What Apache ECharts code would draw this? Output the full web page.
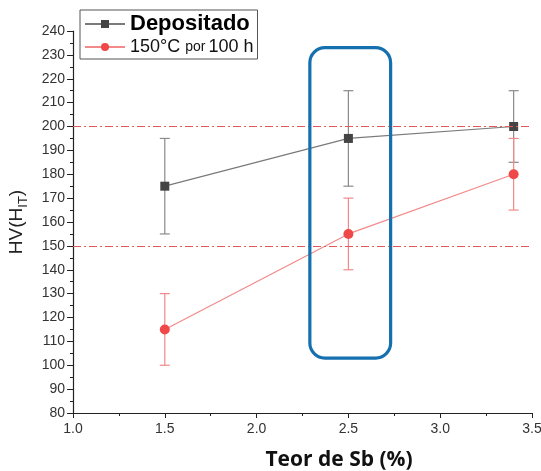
<!DOCTYPE html>
<html>
<head>
<meta charset="utf-8">
<script src="https://cdn.jsdelivr.net/npm/echarts@6/dist/echarts.min.js"></script>
<style>
  html, body { margin: 0; padding: 0; background: #fff; }
  #chart { width: 541px; height: 471px; }
</style>
</head>
<body>
<div id="chart"></div>
<script>
// Sb content (%) on the x axis
const sbContent = [1.5, 2.5, 3.4];

// Hardness, as deposited
const depositado = [175, 195, 200];
const depositadoLow = [155, 175, 185];
const depositadoHigh = [195, 215, 215];

// Hardness after 150 °C for 100 h
const tratado = [115, 155, 180];
const tratadoLow = [100, 140, 165];
const tratadoHigh = [130, 170, 195];

// Reference levels
const refLevels = [200, 150];

// Highlighted region: [xMin, yMin, xMax, yMax]
const highlightBox = [2.29, 103, 2.73, 233];

const FONT = 'Liberation Sans, Arial, sans-serif';
const GRAY_MARK = '#444444';
const GRAY_LINE = '#7a7a7a';
const GRAY_ERR = '#8a8a8a';
const RED_MARK = '#f04848';
const RED_LINE = '#f28a8a';
const RED_ERR = '#f08a8a';

function pairs(xs, ys) { return xs.map((x, i) => [x, ys[i]]); }
function errData(xs, lo, hi) { return xs.map((x, i) => [x, lo[i], hi[i]]); }

function errorBarSeries(data, color) {
  return {
    type: 'custom',
    silent: true,
    z: 1,
    data: data,
    renderItem: function (params, api) {
      const x = api.value(0);
      const top = api.coord([x, api.value(2)]);
      const bot = api.coord([x, api.value(1)]);
      const hw = 5;
      const style = { stroke: color, lineWidth: 1.2 };
      return {
        type: 'group',
        children: [
          { type: 'line', shape: { x1: top[0], y1: top[1], x2: bot[0], y2: bot[1] }, style: style },
          { type: 'line', shape: { x1: top[0] - hw, y1: top[1], x2: top[0] + hw, y2: top[1] }, style: style },
          { type: 'line', shape: { x1: bot[0] - hw, y1: bot[1], x2: bot[0] + hw, y2: bot[1] }, style: style }
        ]
      };
    }
  };
}

const chart = echarts.init(document.getElementById('chart'), null, { renderer: 'canvas' });

chart.setOption({
  animation: false,
  backgroundColor: '#ffffff',
  grid: { left: 73, right: 9, top: 31, bottom: 58, containLabel: false, outerBoundsMode: 'none' },
  legend: {
    orient: 'vertical',
    left: 80,
    top: 10,
    itemWidth: 40,
    itemHeight: 10,
    itemGap: 3,
    padding: [3, 4, 3, 4],
    borderColor: '#555',
    borderWidth: 1,
    borderRadius: 0,
    data: ['Depositado', '150°C por 100 h'],
    formatter: function (name) {
      if (name === 'Depositado') return '{b|Depositado}';
      return '{a|150°C }{s|por}{a|100 h}';
    },
    textStyle: {
      fontFamily: FONT,
      color: '#111',
      rich: {
        b: { fontFamily: FONT, fontSize: 22, fontWeight: 'bold', color: '#000', lineHeight: 24 },
        a: { fontFamily: FONT, fontSize: 18, color: '#111', lineHeight: 22 },
        s: { fontFamily: FONT, fontSize: 14, color: '#111', lineHeight: 22, padding: [0, 3, 0, 0] }
      }
    }
  },
  xAxis: {
    type: 'value',
    min: 1.0,
    max: 3.5,
    interval: 0.5,
    name: 'Teor de Sb (%)',
    nameLocation: 'middle',
    nameGap: 37,
    nameTextStyle: {
      fontFamily: 'Open Sans, Liberation Sans, sans-serif', fontSize: 21, fontWeight: 'bold', color: '#111',
      padding: [0, 0, 0, 73]
    },
    axisLine: { show: true, onZero: false, lineStyle: { color: '#222', width: 1.2 } },
    axisTick: { show: true, inside: false, length: 5, lineStyle: { color: '#222' } },
    minorTick: { show: true, splitNumber: 2, length: 3, lineStyle: { color: '#222' } },
    splitLine: { show: false },
    axisLabel: {
      fontFamily: FONT, fontSize: 14, color: '#333', margin: 9,
      formatter: v => v.toFixed(1)
    }
  },
  yAxis: {
    type: 'value',
    min: 80,
    max: 240,
    interval: 10,
    name: '{n|HV(H}{sub|IT}{n|)}',
    nameLocation: 'middle',
    nameGap: 47,
    nameRotate: 90,
    nameTextStyle: {
      rich: {
        n: { fontFamily: FONT, fontSize: 19, color: '#222', lineHeight: 24, verticalAlign: 'bottom' },
        sub: { fontFamily: FONT, fontSize: 13, color: '#222', lineHeight: 24, verticalAlign: 'bottom', padding: [0, 0, -4, 0] }
      }
    },
    axisLine: { show: true, onZero: false, lineStyle: { color: '#222', width: 1.2 } },
    axisTick: { show: true, inside: false, length: 6, lineStyle: { color: '#222' } },
    minorTick: { show: true, splitNumber: 2, length: 3, lineStyle: { color: '#222' } },
    splitLine: { show: false },
    axisLabel: { fontFamily: FONT, fontSize: 14, color: '#333', margin: 8 }
  },
  series: [
    errorBarSeries(errData(sbContent, depositadoLow, depositadoHigh), GRAY_ERR),
    errorBarSeries(errData(sbContent, tratadoLow, tratadoHigh), RED_ERR),
    {
      name: 'Depositado',
      type: 'line',
      z: 3,
      data: pairs(sbContent, depositado),
      symbol: 'rect',
      symbolSize: 9,
      itemStyle: { color: GRAY_MARK },
      lineStyle: { color: GRAY_LINE, width: 1.2 },
      markLine: {
        silent: true,
        symbol: 'none',
        label: { show: false },
        lineStyle: { color: '#e45a5a', width: 1, type: [8, 3, 2, 3] },
        data: refLevels.map(v => ({ yAxis: v }))
      }
    },
    {
      name: '150°C por 100 h',
      type: 'line',
      z: 3,
      data: pairs(sbContent, tratado),
      symbol: 'circle',
      symbolSize: 10,
      itemStyle: { color: RED_MARK },
      lineStyle: { color: RED_LINE, width: 1.2 }
    },
    {
      type: 'custom',
      silent: true,
      z: 5,
      clip: false,
      data: [highlightBox],
      renderItem: function (params, api) {
        const p0 = api.coord([api.value(0), api.value(3)]);
        const p1 = api.coord([api.value(2), api.value(1)]);
        return {
          type: 'rect',
          shape: { x: p0[0], y: p0[1], width: p1[0] - p0[0], height: p1[1] - p0[1], r: 15 },
          style: { fill: 'none', stroke: '#1570b0', lineWidth: 3.2 }
        };
      }
    }
  ]
});
</script>
</body>
</html>
